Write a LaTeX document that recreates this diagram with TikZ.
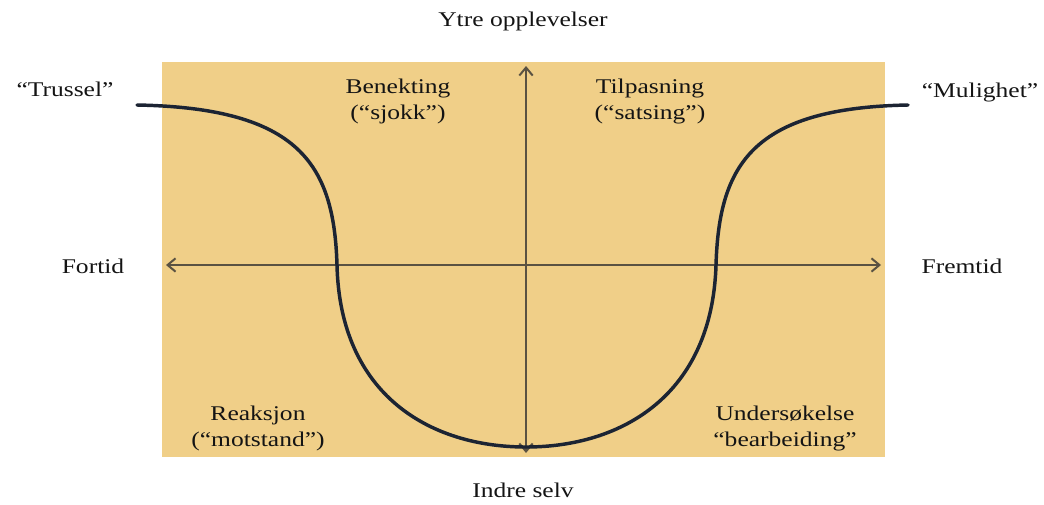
\documentclass[tikz,border=0pt]{standalone}
\usepackage{fontspec}
\setmainfont{Liberation Serif}[FakeStretch=1.22]
\usetikzlibrary{arrows.meta}
\definecolor{bgyellow}{HTML}{F0CF88}
\definecolor{curvecol}{HTML}{1C2433}
\definecolor{axiscol}{HTML}{5A5242}
\definecolor{txtcol}{HTML}{141414}
\tikzset{
  lbl/.style={font=\fontsize{15.7}{19.5}\selectfont, text=txtcol, align=center, inner sep=0pt},
  axis/.style={draw=axiscol, line width=1.5pt, {Straight Barb[length=6pt,width=10pt]}-{Straight Barb[length=6pt,width=10pt]}},
  curve/.style={draw=curvecol, line width=2.6pt, line cap=round}
}
\begin{document}
\begin{tikzpicture}[x=0.75pt,y=-0.75pt]
\useasboundingbox (0,0) rectangle (1044,504);
\fill[bgyellow] (162,62) rectangle (885,457);
% axes
\coordinate (hl) at (166,265);
\coordinate (hr) at (881,265);
\coordinate (vt) at (526,66);
\coordinate (vb) at (526,453);
\draw[axis] (hl) -- (hr);
\draw[axis] (vb) -- (vt);
% curve
\coordinate (cs) at (137,105);
\coordinate (cl) at (337,265);
\coordinate (cb) at (526,447);
\coordinate (cr) at (716,265);
\coordinate (ce) at (908,105);
\draw[curve] (cs) .. controls (300,108) and (334,165) .. (cl)
  .. controls (340,395) and (430,447) .. (cb)
  .. controls (622,447) and (712,395) .. (cr)
  .. controls (719,165) and (752,108) .. (ce);
% labels
\node[lbl] (ytre) at (523,21) {Ytre opplevelser};
\node[lbl] (indre) at (523,490) {Indre selv};
\node[lbl] (trussel) at (65,89) {“Trussel”};
\node[lbl] (mulighet) at (980,92) {“Mulighet”};
\node[lbl] (fortid) at (93,266) {Fortid};
\node[lbl] (fremtid) at (962,266) {Fremtid};
\node[lbl] (benekt) at (398,101) {Benekting\\(“sjokk”)};
\node[lbl] (tilpas) at (650,101) {Tilpasning\\(“satsing”)};
\node[lbl] (reak) at (258,428) {Reaksjon\\(“motstand”)};
\node[lbl] (unders) at (785,428) {Undersøkelse\\“bearbeiding”};
\end{tikzpicture}
\end{document}
